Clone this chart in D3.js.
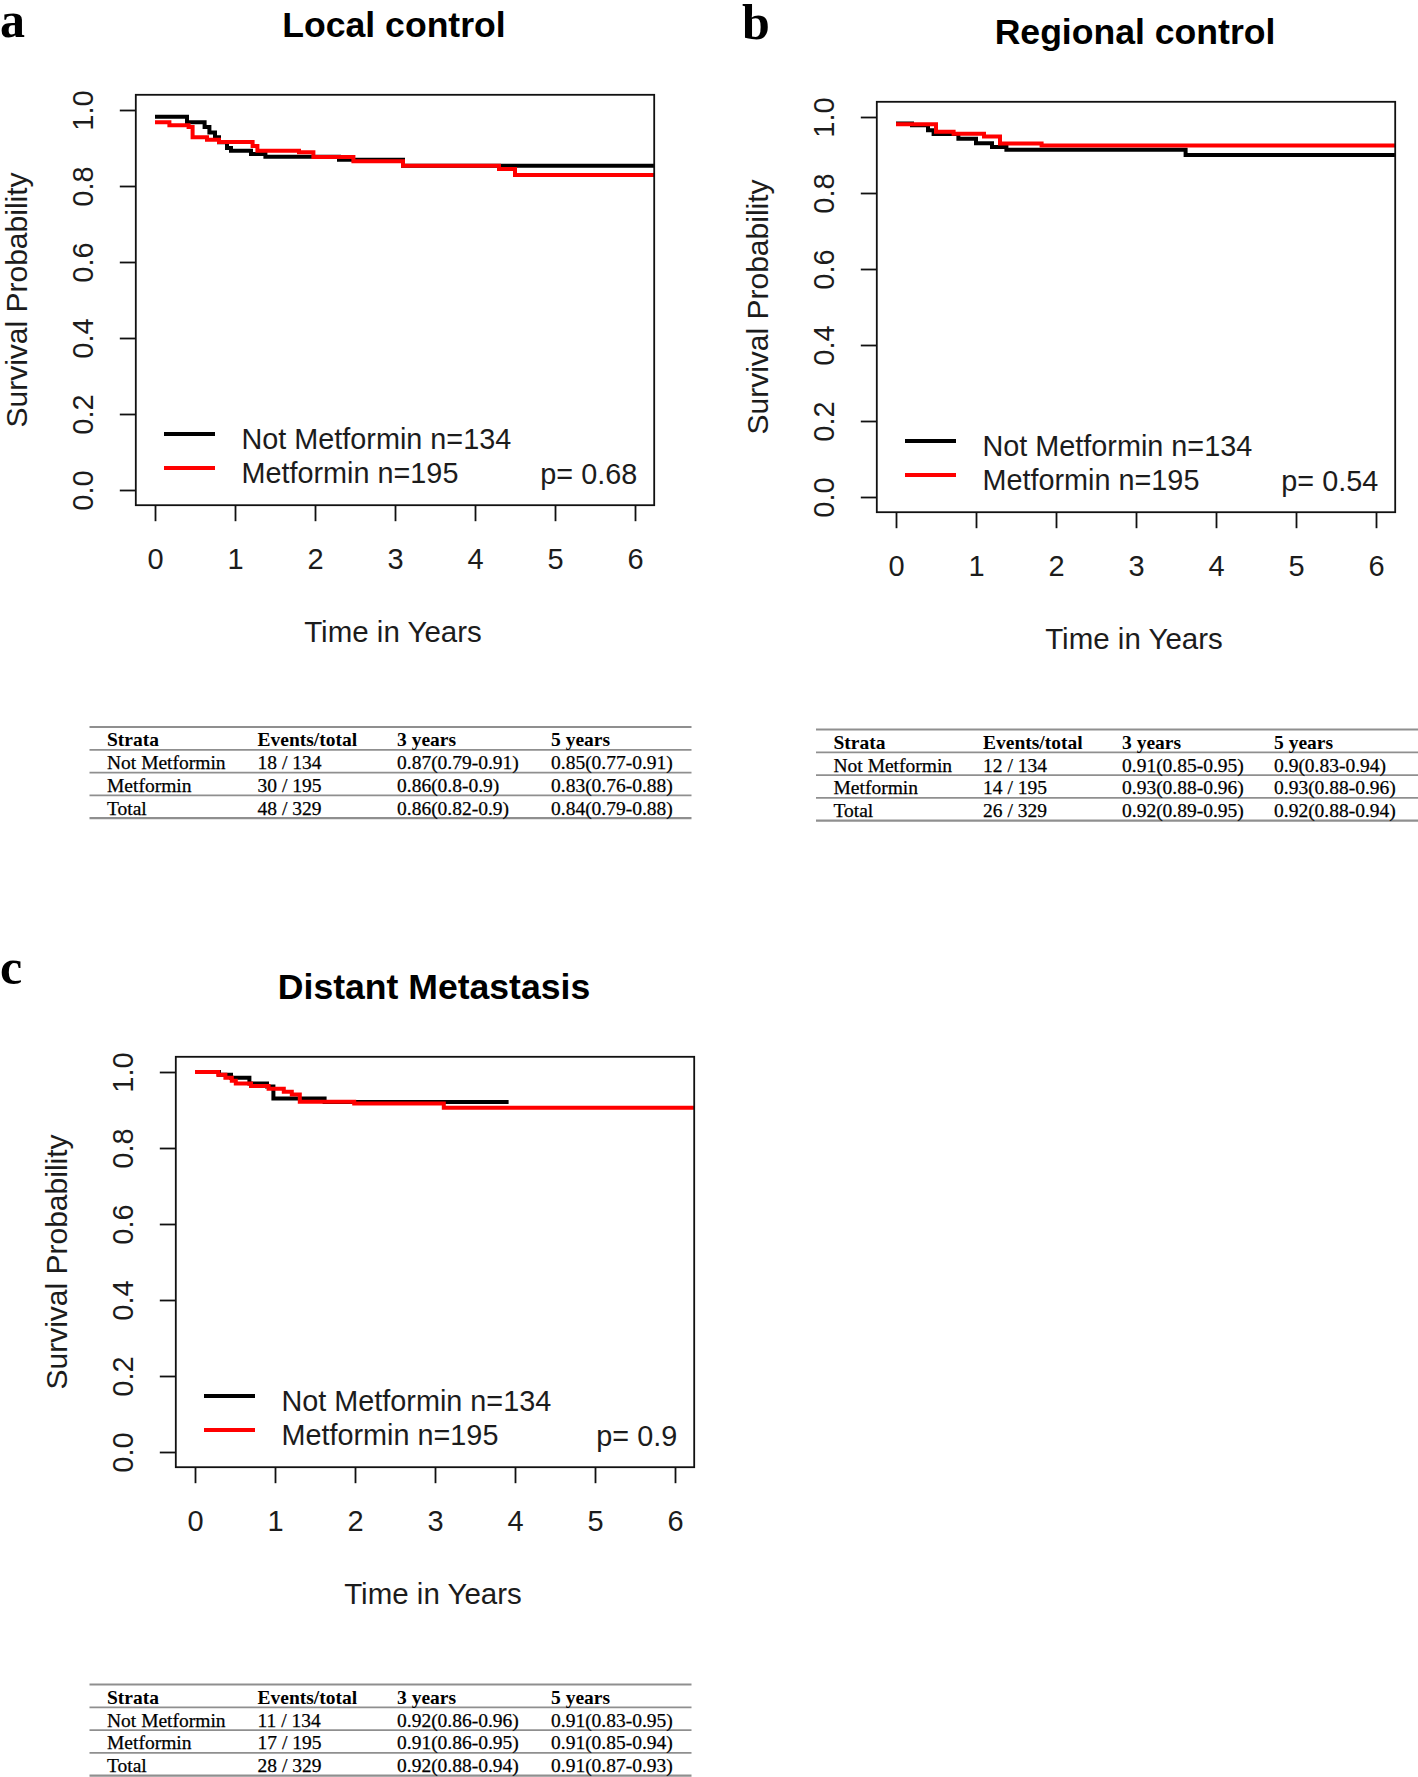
<!DOCTYPE html>
<html><head><meta charset="utf-8">
<script src="https://cdn.jsdelivr.net/npm/d3@7"></script>
<style>body{margin:0;background:#fff} svg{display:block}</style>
</head><body><svg id="chart" width="1418" height="1777"></svg>
<script>
// ---------- data ----------
const xTicks = [0, 1, 2, 3, 4, 5, 6];
const yTicks = [0, 0.2, 0.4, 0.6, 0.8, 1.0];
const panelLetters = ["a", "b", "c"];
const panelTitles = ["Local control", "Regional control", "Distant Metastasis"];
const legendLabels = ["Not Metformin n=134", "Metformin n=195"];
const pValues = ["p= 0.68", "p= 0.54", "p= 0.9"];
const xAxisTitle = "Time in Years";
const yAxisTitle = "Survival Probability";

// Local control
const localNotTime = [0, 0.40, 0.62, 0.68, 0.75, 0.80, 0.90, 0.95, 1.20, 1.38, 2.30, 3.10, 6.30];
const localNotSurv = [0.982, 0.968, 0.955, 0.941, 0.928, 0.915, 0.900, 0.893, 0.884, 0.877, 0.869, 0.853, 0.853];
const localMetTime = [0, 0.18, 0.42, 0.47, 0.65, 0.80, 1.22, 1.28, 1.80, 1.98, 2.48, 3.10, 4.30, 4.50, 6.30];
const localMetSurv = [0.968, 0.960, 0.955, 0.928, 0.922, 0.916, 0.905, 0.893, 0.889, 0.876, 0.865, 0.853, 0.845, 0.829, 0.829];
// Regional control
const regionalNotTime = [0, 0.20, 0.40, 0.47, 0.78, 1.00, 1.20, 1.38, 3.62, 6.30];
const regionalNotSurv = [0.983, 0.978, 0.965, 0.955, 0.943, 0.931, 0.921, 0.914, 0.900, 0.900];
const regionalMetTime = [0, 0.50, 0.72, 1.10, 1.30, 1.82, 6.30];
const regionalMetSurv = [0.981, 0.961, 0.956, 0.949, 0.930, 0.925, 0.925];
// Distant metastasis
const distantNotTime = [0, 0.30, 0.45, 0.68, 0.90, 0.98, 1.62, 3.92];
const distantNotSurv = [1.0, 0.993, 0.985, 0.970, 0.962, 0.930, 0.921, 0.921];
const distantMetTime = [0, 0.29, 0.38, 0.46, 0.51, 0.70, 0.92, 1.11, 1.21, 1.31, 1.99, 3.11, 6.30];
const distantMetSurv = [1.0, 0.993, 0.985, 0.977, 0.970, 0.963, 0.956, 0.948, 0.941, 0.922, 0.917, 0.906, 0.906];

// Tables
const tableHeader = ["Strata", "Events/total", "3 years", "5 years"];
const localTableRows = [
  ["Not Metformin", "18 / 134", "0.87(0.79-0.91)", "0.85(0.77-0.91)"],
  ["Metformin", "30 / 195", "0.86(0.8-0.9)", "0.83(0.76-0.88)"],
  ["Total", "48 / 329", "0.86(0.82-0.9)", "0.84(0.79-0.88)"]
];
const regionalTableRows = [
  ["Not Metformin", "12 / 134", "0.91(0.85-0.95)", "0.9(0.83-0.94)"],
  ["Metformin", "14 / 195", "0.93(0.88-0.96)", "0.93(0.88-0.96)"],
  ["Total", "26 / 329", "0.92(0.89-0.95)", "0.92(0.88-0.94)"]
];
const distantTableRows = [
  ["Not Metformin", "11 / 134", "0.92(0.86-0.96)", "0.91(0.83-0.95)"],
  ["Metformin", "17 / 195", "0.91(0.86-0.95)", "0.91(0.85-0.94)"],
  ["Total", "28 / 329", "0.92(0.88-0.94)", "0.91(0.87-0.93)"]
];

// ---------- drawing ----------
const svg = d3.select("#chart");
const SANS = "'Liberation Sans', Arial, sans-serif";
const SERIF = "'Liberation Serif', 'Times New Roman', serif";
const TXT = "#1c1c1c";
const colors = ["#000000", "#ff0000"];

const seriesByPanel = [
  [[localNotTime, localNotSurv], [localMetTime, localMetSurv]],
  [[regionalNotTime, regionalNotSurv], [regionalMetTime, regionalMetSurv]],
  [[distantNotTime, distantNotSurv], [distantMetTime, distantMetSurv]]
];
const panelOffsets = [[0, 0], [741, 7], [40, 962]];
const letterPos = [[0, 37], [742, 38.5], [0, 984]];

panelTitles.forEach((title, i) => {
  const [ox, oy] = panelOffsets[i];
  const x = d3.scaleLinear().domain([0, 6]).range([ox + 155, ox + 635]);
  const y = d3.scaleLinear().domain([0, 1]).range([oy + 490, oy + 110]);
  const bl = x(-0.24), br = x(6.24), bt = y(1.04), bb = y(-0.04);
  const g = svg.append("g");

  // panel letter
  svg.append("text").attr("x", letterPos[i][0]).attr("y", letterPos[i][1])
    .attr("font-family", SERIF).attr("font-weight", "bold").attr("font-size", 50)
    .attr("fill", "#000").text(panelLetters[i]);

  // title
  g.append("text").attr("x", (bl + br) / 2 - 1).attr("y", oy + 37)
    .attr("text-anchor", "middle").attr("font-family", SANS).attr("font-weight", "bold")
    .attr("font-size", 35.6).attr("fill", "#000").text(title);

  // clip
  const clipId = "clip" + i;
  svg.append("clipPath").attr("id", clipId).append("rect")
    .attr("x", bl).attr("y", bt).attr("width", br - bl).attr("height", bb - bt);

  // curves
  const line = d3.line().x(d => x(d[0])).y(d => y(d[1])).curve(d3.curveStepAfter);
  seriesByPanel[i].forEach(([times, surv], k) => {
    const pts = times.map((t, j) => [t, surv[j]]);
    g.append("path").attr("d", line(pts)).attr("fill", "none")
      .attr("stroke", colors[k]).attr("stroke-width", 4)
      .attr("clip-path", `url(#${clipId})`);
  });

  // box
  g.append("rect").attr("x", bl).attr("y", bt).attr("width", br - bl).attr("height", bb - bt)
    .attr("fill", "none").attr("stroke", "#111").attr("stroke-width", 1.8);

  // x axis
  const xa = g.append("g").attr("transform", `translate(0,${bb})`)
    .call(d3.axisBottom(x).tickValues(xTicks).tickSize(16).tickSizeOuter(0).tickFormat(d3.format("d")));
  xa.select(".domain").remove();
  xa.selectAll("line").attr("stroke", "#111").attr("stroke-width", 1.8);
  xa.selectAll("text").attr("y", 64).attr("dy", null)
    .attr("font-family", SANS).attr("font-size", 29).attr("fill", TXT);

  // y axis
  const ya = g.append("g").attr("transform", `translate(${bl},0)`)
    .call(d3.axisLeft(y).tickValues(yTicks).tickSize(16).tickSizeOuter(0).tickFormat(d3.format(".1f")));
  ya.select(".domain").remove();
  ya.selectAll("line").attr("stroke", "#111").attr("stroke-width", 1.8);
  ya.selectAll("text").attr("x", null).attr("dy", null).attr("text-anchor", "middle")
    .attr("transform", "translate(-42.5,0) rotate(-90)")
    .attr("font-family", SANS).attr("font-size", 29).attr("fill", TXT);

  // axis titles
  g.append("text").attr("x", (bl + br) / 2 - 2).attr("y", bb + 137)
    .attr("text-anchor", "middle").attr("font-family", SANS).attr("font-size", 29.5)
    .attr("fill", TXT).text(xAxisTitle);
  g.append("text").attr("transform", `translate(${bl - 108.5},${(bt + bb) / 2}) rotate(-90)`)
    .attr("text-anchor", "middle").attr("font-family", SANS).attr("font-size", 30)
    .attr("fill", TXT).text(yAxisTitle);

  // legend
  legendLabels.forEach((lab, k) => {
    const ly = y(0) - 56 + k * 34;
    g.append("line").attr("x1", x(0) + 9).attr("x2", x(0) + 60).attr("y1", ly).attr("y2", ly)
      .attr("stroke", colors[k]).attr("stroke-width", 4);
    g.append("text").attr("x", x(0) + 86.5).attr("y", ly + 15)
      .attr("font-family", SANS).attr("font-size", 28.8).attr("fill", TXT).text(lab);
  });
  g.append("text").attr("x", br - 17).attr("y", y(0) - 6).attr("text-anchor", "end")
    .attr("font-family", SANS).attr("font-size", 28.8).attr("fill", TXT).text(pValues[i]);
});

// tables
const tableData = [localTableRows, regionalTableRows, distantTableRows];
const tableLayout = [
  {x0: 89.5, x1: 691.5, top: 727, cols: [107, 257.5, 397, 551]},
  {x0: 816, x1: 1418, top: 729.5, cols: [833.5, 983, 1122, 1274]},
  {x0: 89.5, x1: 691.5, top: 1684.5, cols: [107, 257.5, 397, 551]}
];
const rowH = 22.8;
tableData.forEach((rows, i) => {
  const L = tableLayout[i];
  const tg = svg.append("g");
  const colX = d3.scaleOrdinal().domain(tableHeader).range(L.cols);
  const rowY = d3.scaleLinear().domain([0, 4]).range([L.top, L.top + 4 * rowH]);
  d3.range(5).forEach(r => {
    tg.append("line").attr("x1", L.x0).attr("x2", L.x1).attr("y1", rowY(r)).attr("y2", rowY(r))
      .attr("stroke", "#8f8f8f").attr("stroke-width", r === 0 || r === 4 ? 2.2 : 1.8);
  });
  tableHeader.forEach(h => {
    tg.append("text").attr("x", colX(h)).attr("y", rowY(1) - 3.5)
      .attr("font-family", SERIF).attr("font-weight", "bold").attr("font-size", 19.5)
      .attr("fill", "#000").text(h);
  });
  rows.forEach((row, r) => {
    row.forEach((cell, c) => {
      tg.append("text").attr("x", colX(tableHeader[c])).attr("y", rowY(r + 2) - 3.5)
        .attr("font-family", SERIF).attr("font-size", 19.5).attr("fill", "#000")
        .attr("stroke", "#000").attr("stroke-width", 0.25).text(cell);
    });
  });
});
</script>
</body></html>
